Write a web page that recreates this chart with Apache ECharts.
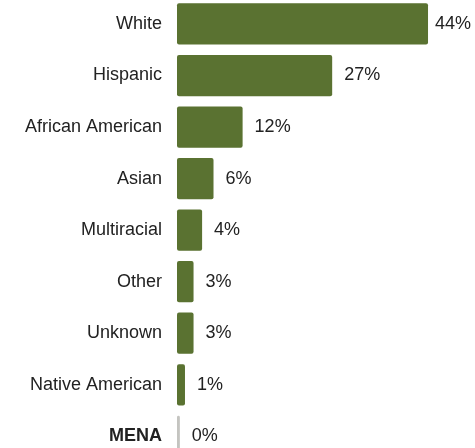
<!DOCTYPE html>
<html>
<head>
<meta charset="utf-8">
<script src="https://cdn.jsdelivr.net/npm/echarts@6/dist/echarts.min.js"></script>
<style>html,body{margin:0;padding:0;background:#fff;overflow:hidden;}#c{position:absolute;left:0;top:-2px;width:475px;height:470px;}</style>
</head>
<body>
<div id="c"></div>
<script>
const categories = ['White','Hispanic','African American','Asian','Multiracial','Other','Unknown','Native American','MENA'];
const values = [44.0, 27.2, 11.5, 6.4, 4.4, 2.9, 2.9, 1.4, 0.5];
const labels = ['44%','27%','12%','6%','4%','3%','3%','1%','0%'];

const chart = echarts.init(document.getElementById('c'), null, {renderer:'canvas'});
const data = values.map((v,i)=>{
  const item = {value: v};
  if (categories[i] === 'MENA') item.itemStyle = {color:'#c4c4c0'};
  if (i === 0) item.label = {distance: 7};
  return item;
});
const font = 'Liberation Sans, Arial, sans-serif';
chart.setOption({
  animation:false,
  grid:{left:177, top:0.2, width:285.25, height:463.9, containLabel:false},
  xAxis:{type:'value', min:0, max:50, show:false},
  yAxis:{type:'category', data:categories, inverse:true,
    axisLine:{show:false}, axisTick:{show:false},
    axisLabel:{margin:15, fontSize:18, color:'#222', fontFamily:font,
      formatter:(v)=> v === 'MENA' ? '{b|' + v + '}' : v,
      rich:{b:{fontSize:18, fontWeight:'bold', color:'#222', fontFamily:font}}}},
  series:[{type:'bar', data:data, barCategoryGap:'20%',
    itemStyle:{color:'#5a7231', borderRadius:2},
    label:{show:true, position:'right', distance:12, fontSize:18, color:'#222',
      fontFamily:font,
      formatter:(p)=>labels[p.dataIndex]}}]
});
</script>
</body>
</html>
